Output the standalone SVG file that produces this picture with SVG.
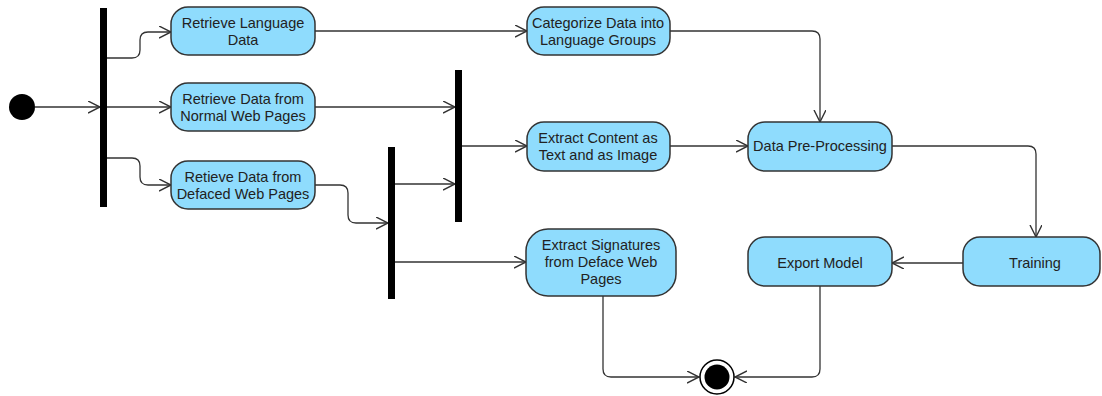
<svg xmlns="http://www.w3.org/2000/svg" width="1102" height="396" viewBox="0 0 1102 396">
  <defs>
    <marker id="arrow" markerUnits="userSpaceOnUse" markerWidth="14" markerHeight="14" refX="12" refY="6" orient="auto">
      <path d="M0,0 L12,6 L0,12" fill="none" stroke="#333" stroke-width="1.4"/>
    </marker>
    <style>
      .act { fill: #8fdcfd; stroke: #333; stroke-width: 1.5; }
      .bar { fill: #000; }
      .lbl { font-family: "Liberation Sans", Arial, sans-serif; font-size: 14.5px; fill: #222; text-anchor: middle; }
      .edge { fill: none; stroke: #333; stroke-width: 1.3; marker-end: url(#arrow); }
    </style>
  </defs>

  <rect width="1102" height="396" fill="#fff"/>

  <!-- connectors -->
  <g id="connectors">
    <path class="edge" d="M35,107 H100"/>
    <path class="edge" d="M107,58 H132 Q140,58 140,50 V40 Q140,32 148,32 H171"/>
    <path class="edge" d="M107,107 H171"/>
    <path class="edge" d="M107,158 H132 Q140,158 140,166 V177 Q140,185 148,185 H171"/>
    <path class="edge" d="M315,31 H527"/>
    <path class="edge" d="M315,107 H455"/>
    <path class="edge" d="M315,185 H340 Q348,185 348,193 V215 Q348,223 356,223 H388"/>
    <path class="edge" d="M395,184 H455"/>
    <path class="edge" d="M462,146 H527"/>
    <path class="edge" d="M395,262 H526"/>
    <path class="edge" d="M670,31 H812 Q820,31 820,39 V122"/>
    <path class="edge" d="M670,146 H748"/>
    <path class="edge" d="M892,146 H1028 Q1036,146 1036,154 V237"/>
    <path class="edge" d="M963,263 H892"/>
    <path class="edge" d="M820,286 V369 Q820,377 812,377 H735"/>
    <path class="edge" d="M603,296 V369 Q603,377 611,377 H699"/>
  </g>

  <!-- initial node -->
  <g id="start">
    <circle cx="22" cy="107" r="13" fill="#000"/>
  </g>

  <!-- fork / join bars -->
  <g id="fork1"><rect class="bar" x="100" y="8" width="7" height="199"/></g>
  <g id="join2"><rect class="bar" x="455" y="70" width="7" height="152"/></g>
  <g id="fork3"><rect class="bar" x="388" y="147" width="7" height="152"/></g>

  <!-- activities -->
  <g id="retrieve-language">
    <rect class="act" x="171" y="7" width="144" height="48" rx="17"/>
    <text class="lbl" x="243" y="28">Retrieve Language</text>
    <text class="lbl" x="243" y="45">Data</text>
  </g>
  <g id="retrieve-normal">
    <rect class="act" x="171" y="83" width="144" height="48" rx="17"/>
    <text class="lbl" x="243" y="104">Retrieve Data from</text>
    <text class="lbl" x="243" y="121">Normal Web Pages</text>
  </g>
  <g id="retrieve-defaced">
    <rect class="act" x="171" y="161" width="144" height="48" rx="17"/>
    <text class="lbl" x="243" y="182">Retieve Data from</text>
    <text class="lbl" x="243" y="199">Defaced Web Pages</text>
  </g>
  <g id="categorize">
    <rect class="act" x="527" y="7" width="143" height="48" rx="17"/>
    <text class="lbl" x="598" y="28">Categorize Data into</text>
    <text class="lbl" x="598" y="45">Language Groups</text>
  </g>
  <g id="extract-content">
    <rect class="act" x="527" y="122" width="143" height="49" rx="17"/>
    <text class="lbl" x="598" y="143">Extract Content as</text>
    <text class="lbl" x="598" y="160">Text and as Image</text>
  </g>
  <g id="extract-signatures">
    <rect class="act" x="526" y="229" width="150" height="67" rx="22"/>
    <text class="lbl" x="601" y="250">Extract Signatures</text>
    <text class="lbl" x="601" y="267">from Deface Web</text>
    <text class="lbl" x="601" y="284">Pages</text>
  </g>
  <g id="pre-processing">
    <rect class="act" x="748" y="122" width="144" height="49" rx="17"/>
    <text class="lbl" x="820" y="151">Data Pre-Processing</text>
  </g>
  <g id="training">
    <rect class="act" x="963" y="237" width="137" height="49" rx="17"/>
    <text class="lbl" x="1035" y="268">Training</text>
  </g>
  <g id="export-model">
    <rect class="act" x="748" y="237" width="144" height="49" rx="17"/>
    <text class="lbl" x="820" y="268">Export Model</text>
  </g>

  <!-- final node -->
  <g id="end">
    <circle cx="717" cy="377" r="17" fill="#fff" stroke="#000" stroke-width="1.5"/>
    <circle cx="717" cy="377" r="12.5" fill="#000"/>
  </g>
</svg>
